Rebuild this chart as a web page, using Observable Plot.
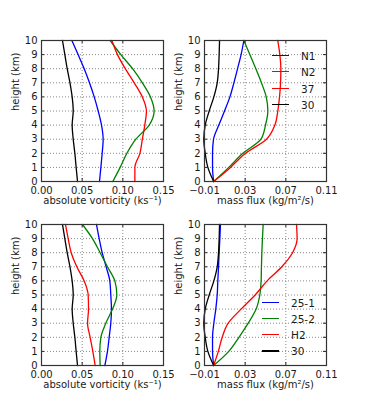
<!DOCTYPE html>
<html>
<head>
<meta charset="utf-8">
<script src="https://cdn.jsdelivr.net/npm/d3@7"></script>
<script src="https://cdn.jsdelivr.net/npm/@observablehq/plot@0.6"></script>
<style>
  body { margin: 0; background: white; }
  #chart { position: relative; width: 366px; height: 406px; font-family: "DejaVu Sans", sans-serif; }
  #chart svg { position: absolute; }
  .legend { position: absolute; font-size: 10.5px; color: #1a1a1a; }
  .legend .row { position: absolute; height: 14px; white-space: nowrap; }
  .legend .sw { position: absolute; top: 6px; height: 1.3px; width: 17px; }
  .legend .lb { position: absolute; top: 0; line-height: 14px; }
</style>
</head>
<body>
<div id="chart"></div>
<script>
// heights (km)
const heights = [0, 1, 2, 3, 4, 5, 6, 7, 8, 9, 10];
const yTicks = [0, 1, 2, 3, 4, 5, 6, 7, 8, 9, 10];
const vortTicks = [0, 0.05, 0.10, 0.15];
const fluxTicks = [-0.01, 0.03, 0.07, 0.11];

// absolute vorticity (ks^-1), top-left
const vortN1 = [0.0713, 0.0730, 0.0746, 0.0758, 0.0738, 0.0697, 0.0648, 0.0590, 0.0525, 0.0450, 0.0373];
const vortN2 = [0.0877, 0.0967, 0.1050, 0.1160, 0.1324, 0.1385, 0.1340, 0.1240, 0.1120, 0.0975, 0.0844];
const vort37 = [0.1148, 0.1148, 0.1210, 0.1240, 0.1270, 0.1290, 0.1240, 0.1140, 0.1030, 0.0934, 0.0865];
const vort30 = [0.0443, 0.0426, 0.0410, 0.0390, 0.0377, 0.0390, 0.0377, 0.0350, 0.0316, 0.0287, 0.0258];
// absolute vorticity, bottom-left
const vort25_1 = [0.0779, 0.0811, 0.0832, 0.0852, 0.0860, 0.0852, 0.0840, 0.0795, 0.0746, 0.0709, 0.0676];
const vort25_2 = [0.0721, 0.0717, 0.0730, 0.0791, 0.0873, 0.0926, 0.0902, 0.0811, 0.0721, 0.0627, 0.0504];
const vortH2 = [0.0660, 0.0631, 0.0598, 0.0566, 0.0578, 0.0574, 0.0525, 0.0434, 0.0365, 0.0328, 0.0295];

// mass flux (kg/m^2/s), top-right
const fluxN1 = [-0.0010, -0.0021, -0.0021, -0.0011, 0.0041, 0.0097, 0.0150, 0.0189, 0.0225, 0.0260, 0.0287];
const fluxN2 = [-0.0010, 0.0139, 0.0277, 0.0455, 0.0500, 0.0523, 0.0507, 0.0460, 0.0405, 0.0346, 0.0287];
const flux37 = [-0.0010, 0.0156, 0.0303, 0.0510, 0.0592, 0.0621, 0.0638, 0.0648, 0.0651, 0.0641, 0.0621];
const flux30 = [-0.0010, -0.0067, -0.0093, -0.0107, -0.0093, -0.0054, -0.0008, 0.0025, 0.0038, 0.0044, 0.0048];
// mass flux, bottom-right
const flux25_1 = [-0.0010, -0.0021, -0.0021, -0.0008, 0.0011, 0.0025, 0.0031, 0.0038, 0.0044, 0.0051, 0.0057];
const flux25_2 = [-0.0010, 0.0139, 0.0239, 0.0330, 0.0408, 0.0444, 0.0457, 0.0460, 0.0464, 0.0470, 0.0477];
const fluxH2 = [-0.0010, 0.0036, 0.0074, 0.0133, 0.0260, 0.0398, 0.0516, 0.0660, 0.0766, 0.0811, 0.0805];

const topNames = ["N1", "N2", "37", "30"];
const bottomNames = ["25-1", "25-2", "H2", "30"];
const colors = ["#0000ff", "#008000", "#ff0000", "#000000"];

function rows(names, arrays) {
  const out = [];
  names.forEach((n, i) => arrays[i].forEach((v, j) => out.push({name: n, h: heights[j], v, color: colors[i]})));
  return out;
}

const PW = 122, PH = 141;
function panel({data, names, domain, ticks, fmt, xLabel, width, height, mL, mR, mT, mB}) {
  return Plot.plot({
    width, height,
    marginLeft: mL, marginRight: mR, marginTop: mT, marginBottom: mB,
    style: {background: "transparent", fontFamily: "DejaVu Sans, sans-serif", fontSize: "10px", color: "#1a1a1a", overflow: "visible"},
    x: {domain, label: null},
    y: {domain: [0, 10], label: null},
    marks: [
      Plot.gridX(ticks, {stroke: "#888", strokeOpacity: 1, strokeDasharray: "1,2"}),
      Plot.gridY(yTicks, {stroke: "#888", strokeOpacity: 1, strokeDasharray: "1,2"}),
      ...names.map(n => Plot.line(data.filter(d => d.name === n), {
        x: "v", y: "h", stroke: d => d.color, strokeWidth: 1.3, curve: "monotone-y"
      })),
      Plot.tickX(ticks, {x: d => d, insetTop: PH - 3, stroke: "#222"}),
      Plot.tickX(ticks, {x: d => d, insetBottom: PH - 3, stroke: "#222"}),
      Plot.tickY(yTicks, {y: d => d, insetRight: PW - 3, stroke: "#222"}),
      Plot.tickY(yTicks, {y: d => d, insetLeft: PW - 3, stroke: "#222"}),
      Plot.frame({stroke: "#333", strokeWidth: 1.2}),
      Plot.axisX(ticks, {tickSize: 0, tickPadding: 5, tickFormat: fmt, label: null}),
      Plot.axisY(yTicks, {tickSize: 0, tickPadding: 4, label: null}),
      Plot.text([xLabel], {frameAnchor: "bottom", dy: 22, fontSize: 10}),
      Plot.text(["height (km)"], {frameAnchor: "left", dx: -26, rotate: -90, fontSize: 10})
    ]
  });
}

const chart = document.getElementById("chart");
const vfmt = d3.format(".2f");
const place = (svg, left, top) => { svg.style.left = left + "px"; svg.style.top = top + "px"; chart.appendChild(svg); };

const vortLabel = "absolute vorticity (ks\u207B\u00B9)";
const fluxLabel = "mass flux (kg/m\u00B2/s)";

place(panel({data: rows(topNames, [vortN1, vortN2, vort37, vort30]), names: topNames, domain: [0, 0.15], ticks: vortTicks, fmt: vfmt,
  xLabel: vortLabel, width: 175, height: 212, mL: 41, mR: 12, mT: 40, mB: 31}), 0, 0);
place(panel({data: rows(topNames, [fluxN1, fluxN2, flux37, flux30]), names: topNames, domain: [-0.01, 0.11], ticks: fluxTicks, fmt: vfmt,
  xLabel: fluxLabel, width: 191, height: 212, mL: 29, mR: 40, mT: 40, mB: 31}), 175, 0);
place(panel({data: rows(bottomNames, [vort25_1, vort25_2, vortH2, vort30]), names: bottomNames, domain: [0, 0.15], ticks: vortTicks, fmt: vfmt,
  xLabel: vortLabel, width: 175, height: 194, mL: 41, mR: 12, mT: 12, mB: 41}), 0, 212);
place(panel({data: rows(bottomNames, [flux25_1, flux25_2, fluxH2, flux30]), names: bottomNames, domain: [-0.01, 0.11], ticks: fluxTicks, fmt: vfmt,
  xLabel: fluxLabel, width: 191, height: 194, mL: 29, mR: 40, mT: 12, mB: 41}), 175, 212);

function legend(names, left, top, lineW, gap, step) {
  const lg = document.createElement("div");
  lg.className = "legend";
  lg.style.left = left + "px"; lg.style.top = top + "px";
  names.forEach((n, i) => {
    const r = document.createElement("div");
    r.className = "row"; r.style.top = (i * step) + "px";
    const sw = document.createElement("div");
    sw.className = "sw"; sw.style.background = colors[i]; sw.style.width = lineW + "px";
    const lb = document.createElement("div");
    lb.className = "lb"; lb.style.left = gap + "px"; lb.textContent = n;
    r.appendChild(sw); r.appendChild(lb); lg.appendChild(r);
  });
  chart.appendChild(lg);
}
legend(topNames, 272, 48.5, 17, 29, 16.5);
legend(bottomNames, 262, 295.5, 17, 29, 16.3);
</script>
</body>
</html>
